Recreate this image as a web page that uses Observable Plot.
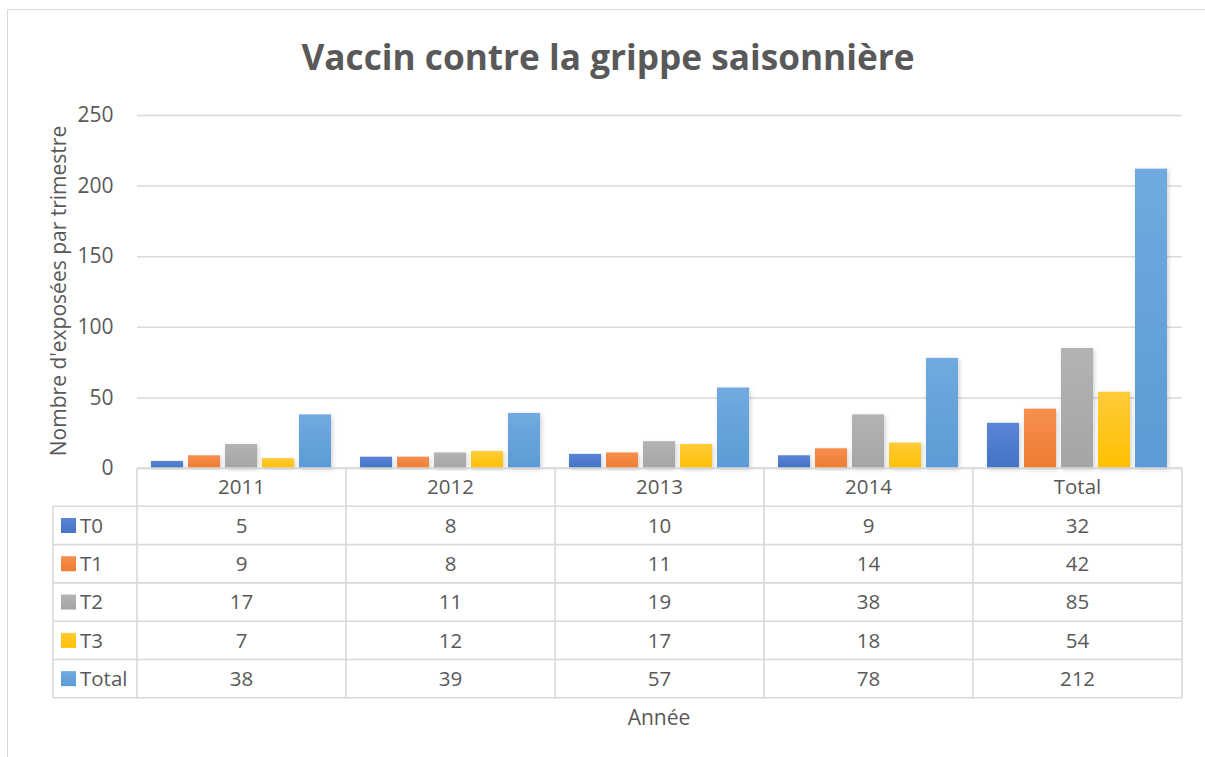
<!DOCTYPE html>
<html><head><meta charset="utf-8">
<script src="https://cdn.jsdelivr.net/npm/d3@7"></script>
<script src="https://cdn.jsdelivr.net/npm/@observablehq/plot@0.6"></script>
<style>
body{margin:0;background:#fff;}
#chart{position:relative;width:1205px;height:757px;overflow:hidden;font-family:"Open Sans",sans-serif;color:#595959;background:#fff;}
#frame{position:absolute;left:7px;top:9px;width:1300px;height:900px;border:1.5px solid #d9d9d9;box-sizing:border-box;}
#title{position:absolute;top:39px;left:0;width:1216px;text-align:center;font-weight:bold;font-size:35.2px;line-height:35px;white-space:nowrap;}
#ylab{position:absolute;left:58px;top:291px;transform:translate(-50%,-50%) rotate(-90deg);font-size:21px;line-height:21px;white-space:nowrap;}
#xlab{position:absolute;left:659px;top:717px;transform:translate(-50%,-50%);font-size:21px;line-height:21px;white-space:nowrap;}
#plot{position:absolute;left:0;top:0;}
</style></head>
<body>
<div id="chart">
  <div id="frame"></div>
  <div id="plot"></div>
  <div id="title">Vaccin contre la grippe saisonnière</div>
  <div id="ylab">Nombre d'exposées par trimestre</div>
  <div id="xlab">Année</div>
</div>
<script>
const years = ["2011", "2012", "2013", "2014", "Total"];
const series = ["T0", "T1", "T2", "T3", "Total"];
const T0 = [5, 8, 10, 9, 32];
const T1 = [9, 8, 11, 14, 42];
const T2 = [17, 11, 19, 38, 85];
const T3 = [7, 12, 17, 18, 54];
const TotalSeries = [38, 39, 57, 78, 212];
const yTicks = [0, 50, 100, 150, 200, 250];
const baseColors = ["#4472C4", "#ED7D31", "#A5A5A5", "#FFC000", "#5B9BD5"];
const topColors = ["#5B85D6", "#F78F4E", "#B3B3B3", "#FFCB3A", "#70AAE0"];

const seriesValues = [T0, T1, T2, T3, TotalSeries];
const data = series.flatMap((s, i) => years.map((y, j) => ({series: s, year: y, value: seriesValues[i][j]})));

const plot = Plot.plot({
  width: 1205, height: 757,
  marginLeft: 137, marginRight: 23, marginTop: 115, marginBottom: 289,
  style: {background: "transparent", fontFamily: "'Open Sans', sans-serif", fontSize: "20px", color: "#595959"},
  fx: {domain: years, padding: 0, axis: null},
  x: {domain: series, paddingInner: 0.135, paddingOuter: 0.39, axis: null},
  y: {domain: [0, 250], axis: null},
  color: {domain: series, range: series.map((s, i) => `url(#grad${i})`)},
  marks: [
    Plot.gridY(yTicks, {stroke: "#d9d9d9", strokeOpacity: 1, strokeWidth: 1.5}),
    Plot.axisY(yTicks, {tickSize: 0, tickPadding: 24, fontSize: 21, fill: "#595959", label: null}),
    Plot.barY(data, {fx: "year", x: "series", y: "value", fill: "series"})
  ]
});

const svg = d3.select(plot);
const defs = svg.insert("defs", ":first-child");
series.forEach((s, i) => {
  const g = defs.append("linearGradient").attr("id", `grad${i}`).attr("x1", 0).attr("y1", 0).attr("x2", 0).attr("y2", 1);
  g.append("stop").attr("offset", "0%").attr("stop-color", topColors[i]);
  g.append("stop").attr("offset", "100%").attr("stop-color", baseColors[i]);
});
const f = defs.append("filter").attr("id", "shadow").attr("x", "-20%").attr("y", "-5%").attr("width", "150%").attr("height", "120%");
f.append("feDropShadow").attr("dx", 1.5).attr("dy", 1.5).attr("stdDeviation", 2).attr("flood-color", "#000").attr("flood-opacity", 0.18);
svg.selectAll("rect").attr("filter", "url(#shadow)");

// Data table drawn from the fx scale
const fx = plot.scale("fx");
const y = plot.scale("y");
const bw = fx.bandwidth;
const x0 = fx.apply(years[0]);
const x1 = fx.apply(years[years.length - 1]) + bw;
const top0 = y.apply(0);
const rowH = 38.3;
const leftEdge = 53;
const tbl = svg.append("g").attr("font-family", "'Open Sans', sans-serif").attr("font-size", 20.5).attr("fill", "#595959");
const lineColor = "#d9d9d9";
for (let r = 0; r <= series.length + 1; r++) {
  const yy = top0 + r * rowH;
  tbl.append("line").attr("x1", r === 0 ? x0 : leftEdge).attr("x2", x1).attr("y1", yy).attr("y2", yy)
    .attr("stroke", lineColor).attr("stroke-width", 1.6);
}
years.forEach(yr => {
  const xx = fx.apply(yr);
  tbl.append("line").attr("x1", xx).attr("x2", xx).attr("y1", top0).attr("y2", top0 + rowH * (series.length + 1))
    .attr("stroke", lineColor).attr("stroke-width", 1.6);
});
tbl.append("line").attr("x1", x1).attr("x2", x1).attr("y1", top0).attr("y2", top0 + rowH * (series.length + 1))
  .attr("stroke", lineColor).attr("stroke-width", 1.6);
tbl.append("line").attr("x1", leftEdge).attr("x2", leftEdge).attr("y1", top0 + rowH).attr("y2", top0 + rowH * (series.length + 1))
  .attr("stroke", lineColor).attr("stroke-width", 1.6);
years.forEach(yr => {
  tbl.append("text").attr("x", fx.apply(yr) + bw / 2).attr("y", top0 + rowH / 2).attr("dy", "0.35em")
    .attr("text-anchor", "middle").text(yr);
});
series.forEach((s, i) => {
  const cy = top0 + rowH * (i + 1) + rowH / 2;
  tbl.append("rect").attr("x", 61).attr("y", cy - 7.5).attr("width", 15).attr("height", 15).attr("fill", `url(#grad${i})`);
  tbl.append("text").attr("x", 80).attr("y", cy).attr("dy", "0.35em").attr("text-anchor", "start").text(s);
  years.forEach((yr, j) => {
    tbl.append("text").attr("x", fx.apply(yr) + bw / 2).attr("y", cy).attr("dy", "0.35em")
      .attr("text-anchor", "middle").text(seriesValues[i][j]);
  });
});

document.getElementById("plot").appendChild(plot);
</script>
</body></html>
